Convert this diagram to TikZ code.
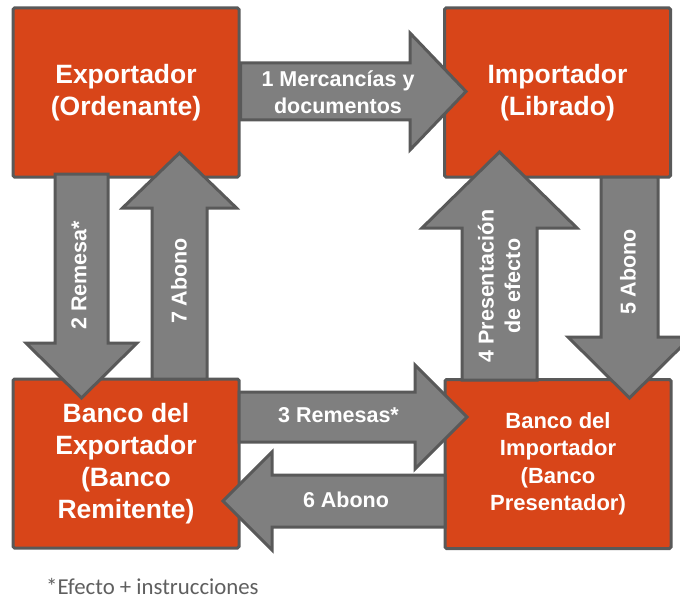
\documentclass[tikz,border=0pt]{standalone}
\usepackage{fontspec}
\setmainfont{Liberation Sans}
\newfontfamily\notefont{Carlito}
\definecolor{boxorange}{HTML}{D84519}
\definecolor{edgegrey}{HTML}{595959}
\definecolor{arrowgrey}{HTML}{7F7F7F}
\definecolor{notegrey}{HTML}{5F5F5F}
\begin{document}
\begin{tikzpicture}[x=1pt,y=-1pt,
  party/.style={draw=edgegrey, line width=3pt, fill=boxorange, rounded corners=1.5pt,
    minimum width=226pt, minimum height=169pt, inner sep=0pt,
    text=white, align=center, font=\bfseries\fontsize{26.5}{32}\selectfont},
  smallparty/.style={party, font=\bfseries\fontsize{22}{27.5}\selectfont},
  flow/.style={draw=edgegrey, line width=3pt, fill=arrowgrey, line join=miter},
  flowlabel/.style={text=white, align=center, inner sep=0pt,
    font=\bfseries\fontsize{21.5}{26.5}\selectfont}]
\useasboundingbox (0,0) rectangle (680,599);
% parties
\node[party] (exp) at (126,92.5) {Exportador\\(Ordenante)};
\node[party] (imp) at (557.5,92.5) {Importador\\(Librado)};
\node[party] (bexp) at (126,463.5) {Banco del\\Exportador\\(Banco\\Remitente)};
\node[smallparty] (bimp) at (558,464) {Banco del\\Importador\\(Banco\\Presentador)};
% 1 Mercancias y documentos (right)
\draw[flow] (exp.east |- 0,63) -- (410,63) -- (410,33) -- (466,91.5) -- (410,150) -- (410,120) -- (exp.east |- 0,120) -- cycle;
\node[flowlabel] (l1) at (338,92) {1 Mercancías y\\documentos};
% 2 Remesa (down)
\draw[flow] (55,174) -- (55,343) -- (26,343) -- (81.5,398) -- (137,343) -- (108,343) -- (108,174) -- cycle;
\node[flowlabel, rotate=90] (l2) at (79,275.5) {2 Remesa*};
% 7 Abono (up)
\draw[flow] (152,379) -- (152,208) -- (122.5,208) -- (179.5,153) -- (236.5,208) -- (207,208) -- (207,379) -- cycle;
\node[flowlabel, rotate=90] (l7) at (179,281) {7 Abono};
% 4 Presentacion de efecto (up)
\draw[flow] (462,380) -- (462,228) -- (422,228) -- (499.5,152) -- (577,228) -- (537,228) -- (537,380) -- cycle;
\node[flowlabel, rotate=90] (l4) at (499,286) {4 Presentación\\de efecto};
% 5 Abono (down)
\draw[flow] (601,177) -- (601,337) -- (568,337) -- (629.5,398) -- (691,337) -- (658,337) -- (658,177) -- cycle;
\node[flowlabel, rotate=90] (l5) at (628,272) {5 Abono};
% 3 Remesas (right)
\draw[flow] (239,392) -- (415,392) -- (415,365) -- (467,417) -- (415,469) -- (415,442) -- (239,442) -- cycle;
\node[flowlabel] (l3) at (338.5,415) {3 Remesas*};
% 6 Abono (left)
\draw[flow] (445,475) -- (272,475) -- (272,452) -- (223,501) -- (272,550) -- (272,527) -- (445,527) -- cycle;
\node[flowlabel] (l6) at (346,500) {6 Abono};
% footnote
\node[anchor=base west, inner sep=0pt, text=notegrey, font=\notefont\fontsize{22.8}{27}\selectfont] (note) at (46,594) {*Efecto + instrucciones};
\end{tikzpicture}
\end{document}
